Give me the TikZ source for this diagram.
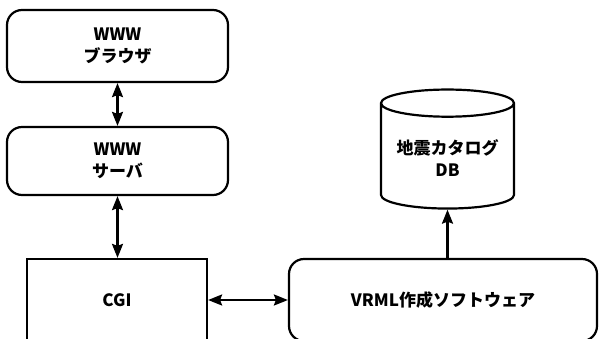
\documentclass[tikz,border=0pt]{standalone}
\usepackage{fontspec}
\setmainfont{Noto Sans CJK JP}
\usepackage{tikz}
\usetikzlibrary{shapes.geometric,arrows.meta,calc}

\tikzset{
  box/.style={draw,line width=2.2pt,align=center,font=\fontsize{17}{22}\selectfont\bfseries},
  rbox/.style={box,rounded corners=15pt},
}

\begin{document}
\begin{tikzpicture}[x=1pt,y=-1pt,>={Stealth[length=14pt,width=11pt,inset=2pt]},line width=2.2pt]
      \useasboundingbox (0,0) rectangle (602,338);
      \clip (0,0) rectangle (602,338);
      \node[rbox,minimum width=221pt,minimum height=72pt] (browser) at (117.5,46) {WWW\\ブラウザ};
      \node[rbox,minimum width=221pt,minimum height=68pt] (server) at (117.5,161) {WWW\\サーバ};
      \node[box,minimum width=180pt,minimum height=82pt] (cgi) at (117,300) {CGI};
      \node[rbox,minimum width=308pt,minimum height=82pt] (vrml) at (443,300) {VRML作成ソフトウェア};
      \node[box,cylinder,shape border rotate=90,aspect=0.25,minimum width=133pt,minimum height=119pt] (db) at (447.5,158.5) {地震カタログ\\DB};
      \draw[<->] (browser) -- (server);
      \draw[<->] (server) -- (server |- cgi.north);
      \draw[<->] (cgi) -- (vrml);
      \draw[->] (db.south |- vrml.north) -- (db.south);
   \end{tikzpicture}
\end{document}
